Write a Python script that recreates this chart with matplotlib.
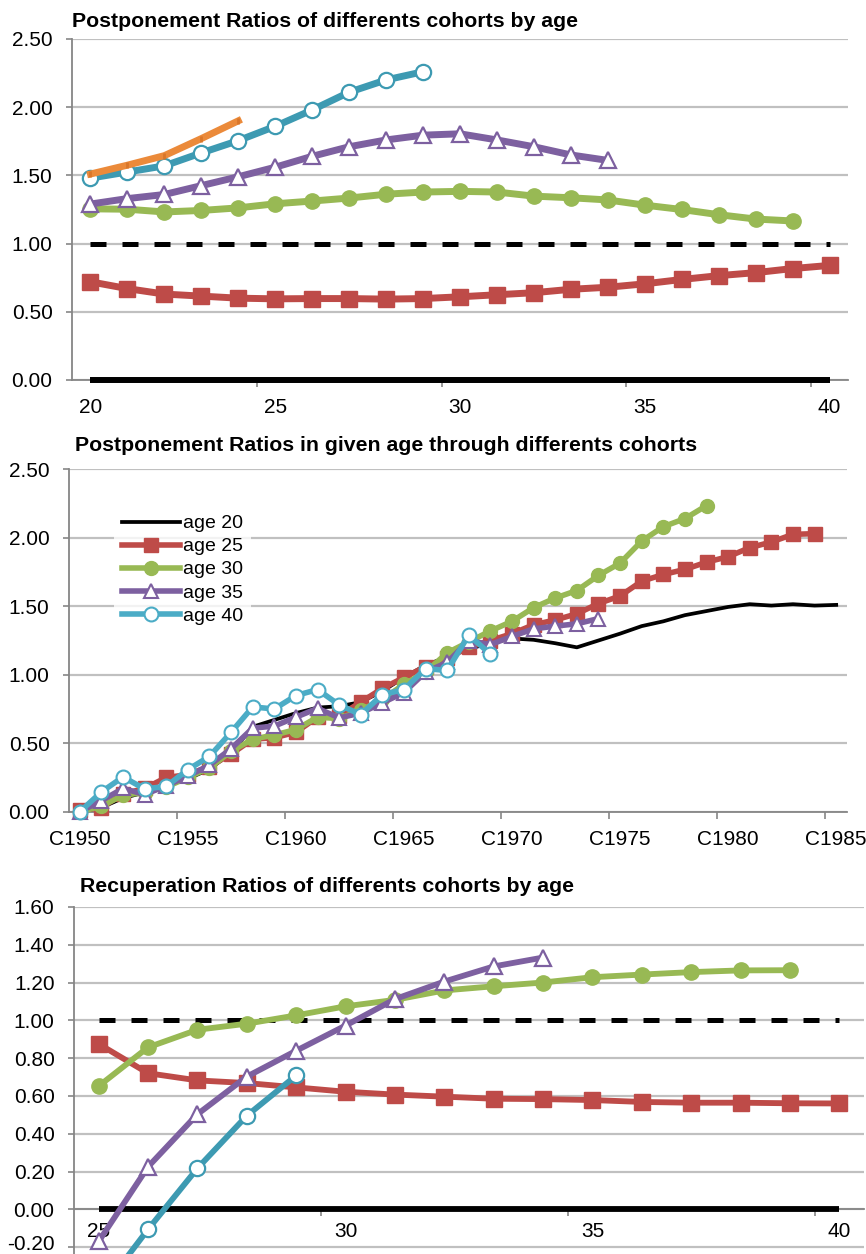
import numpy as np
import matplotlib
matplotlib.use('Agg')
import matplotlib.pyplot as plt
import matplotlib.transforms as mtransforms

plt.rcParams['font.family'] = ['Liberation Sans', 'DejaVu Sans']

# ---- panel 1: postponement ratios of cohorts by age ----
ages1 = list(range(20, 41))
p1_zero = [0.0] * 21
p1_one = [1.0] * 21
p1_red = [0.72, 0.67, 0.63, 0.615, 0.60, 0.595, 0.597, 0.597, 0.593, 0.597, 0.61,
          0.625, 0.64, 0.665, 0.68, 0.705, 0.737, 0.765, 0.787, 0.817, 0.84]
p1_green = [1.255, 1.252, 1.232, 1.243, 1.262, 1.292, 1.312, 1.334, 1.362, 1.378, 1.383,
            1.378, 1.348, 1.336, 1.32, 1.282, 1.25, 1.212, 1.18, 1.166]
p1_purple = [1.29, 1.33, 1.36, 1.425, 1.49, 1.56, 1.64, 1.71, 1.76, 1.795, 1.805,
             1.76, 1.71, 1.65, 1.61]
p1_cyan = [1.48, 1.525, 1.57, 1.665, 1.755, 1.86, 1.98, 2.11, 2.20, 2.26]
p1_orange = [1.51, 1.575, 1.645, 1.77, 1.90]

# ---- panel 2: postponement ratios in given age through cohorts ----
cohorts = list(range(1950, 1986))
age20 = [0.00, 0.03, 0.10, 0.14, 0.19, 0.24, 0.31, 0.43, 0.62, 0.67, 0.72, 0.76, 0.77, 0.80,
         0.88, 0.98, 1.07, 1.13, 1.19, 1.23, 1.265, 1.255, 1.23, 1.20, 1.25, 1.30, 1.355,
         1.39, 1.435, 1.465, 1.495, 1.515, 1.505, 1.515, 1.505, 1.51]
age25 = [0.01, 0.03, 0.13, 0.17, 0.25, 0.27, 0.33, 0.42, 0.53, 0.54, 0.58, 0.69, 0.70, 0.80,
         0.90, 0.98, 1.06, 1.12, 1.20, 1.25, 1.30, 1.365, 1.40, 1.445, 1.52, 1.575, 1.683,
         1.732, 1.769, 1.822, 1.862, 1.928, 1.969, 2.025, 2.03]
age30 = [0.00, 0.04, 0.12, 0.14, 0.18, 0.25, 0.32, 0.44, 0.53, 0.56, 0.60, 0.69, 0.68, 0.74,
         0.82, 0.93, 1.02, 1.16, 1.24, 1.32, 1.39, 1.49, 1.56, 1.615, 1.725, 1.815, 1.976,
         2.081, 2.14, 2.235]
age35 = [0.00, 0.08, 0.17, 0.125, 0.19, 0.26, 0.34, 0.46, 0.61, 0.625, 0.69, 0.755, 0.685,
         0.72, 0.795, 0.87, 1.02, 1.09, 1.25, 1.22, 1.28, 1.335, 1.355, 1.372, 1.41]
age40 = [0.00, 0.144, 0.254, 0.166, 0.185, 0.307, 0.404, 0.58, 0.765, 0.75, 0.848, 0.892,
         0.78, 0.709, 0.855, 0.892, 1.045, 1.031, 1.29, 1.15]
legend_labels = ['age 20', 'age 25', 'age 30', 'age 35', 'age 40']

# ---- panel 3: recuperation ratios of cohorts by age ----
ages3 = list(range(25, 41))
r_zero = [0.0] * 16
r_one = [1.0] * 16
r_red = [0.875, 0.72, 0.682, 0.668, 0.645, 0.622, 0.607, 0.596, 0.585, 0.583, 0.578,
         0.568, 0.564, 0.564, 0.561, 0.56]
r_green = [0.652, 0.857, 0.95, 0.982, 1.026, 1.074, 1.108, 1.158, 1.18, 1.2, 1.228,
           1.242, 1.255, 1.264, 1.265]
r_purple = [-0.17, 0.225, 0.503, 0.702, 0.839, 0.972, 1.112, 1.205, 1.285, 1.332]
r_cyan = [-0.45, -0.106, 0.217, 0.495, 0.708]

RED = '#BE4B48'
GREEN = '#98B954'
PURPLE = '#7D60A0'
CYAN_D = '#3D9AB2'
CYAN = '#4BACC6'
ORANGE = '#EB8A3A'
GRID = '#C0C0C0'
AX = '#868686'

fig = plt.figure(figsize=(8.66, 12.54), dpi=100)


def style(ax, ymin, ymax, yticks, fs=15):
    ax.set_ylim(ymin, ymax)
    ax.set_yticks(yticks)
    ax.set_yticklabels(['%.2f' % t for t in yticks])
    ax.yaxis.grid(True, color=GRID, lw=1.6)
    ax.set_axisbelow(True)
    for s in ['top', 'right']:
        ax.spines[s].set_visible(False)
    for s in ['left', 'bottom']:
        ax.spines[s].set_color(AX)
        ax.spines[s].set_linewidth(1.3)
    ax.tick_params(axis='y', direction='out', length=4, width=1.2, color=AX, pad=10, labelsize=fs)
    ax.tick_params(axis='x', which='major', direction='out', length=5, width=1.2, color=AX,
                   labelbottom=False)
    ax.tick_params(axis='x', which='minor', length=0, pad=13, labelsize=fs)


# panel 1
ax1 = fig.add_axes([72 / 866, 1 - 380 / 1254, 776 / 866, 341 / 1254])
ax1.set_xlim(19.5, 40.5)
style(ax1, 0, 2.5, [0, 0.5, 1.0, 1.5, 2.0, 2.5])
ax1.set_xticks([24.5, 29.5, 34.5, 39.5])
ax1.set_xticks([20, 25, 30, 35, 40], minor=True)
ax1.set_xticklabels(['20', '25', '30', '35', '40'], minor=True)
ax1.plot(ages1, p1_zero, color='black', lw=4.3, solid_capstyle='butt', clip_on=False, zorder=3)
ax1.plot(ages1, p1_one, color='black', lw=3.6, dashes=(3.2, 3.2), zorder=3)
ax1.plot(ages1, p1_red, color=RED, lw=5.0, marker='s', ms=11, zorder=3)
ax1.plot(ages1[:len(p1_green)], p1_green, color=GREEN, lw=5.0, marker='o', ms=11, zorder=3)
ax1.plot(ages1[:len(p1_purple)], p1_purple, color=PURPLE, lw=5.0, marker='^', ms=11,
         mfc='white', mec=PURPLE, mew=1.6, zorder=3)
ax1.plot(ages1[:len(p1_cyan)], p1_cyan, color=CYAN_D, lw=5.0, marker='o', ms=11,
         mfc='white', mec=CYAN_D, mew=1.6, zorder=3)
ax1.plot(ages1[:len(p1_orange)], p1_orange, color=ORANGE, lw=5.0, marker='|', ms=5,
         mew=2, mec='#D9762A', zorder=3)
fig.text(72 / 866, 1 - 27 / 1254, 'Postponement Ratios of differents cohorts by age',
         fontsize=15.3, fontweight='bold', va='baseline', ha='left')

# panel 2
ax2 = fig.add_axes([69 / 866, 1 - 811.7 / 1254, 778 / 866, 342.4 / 1254])
ax2.set_xlim(1949.5, 1985.5)
style(ax2, 0, 2.5, [0, 0.5, 1.0, 1.5, 2.0, 2.5])
ax2.set_xticks([1954.5, 1959.5, 1964.5, 1969.5, 1974.5, 1979.5, 1984.5])
lab_years = list(range(1950, 1986, 5))
ax2.set_xticks(lab_years, minor=True)
ax2.set_xticklabels(['C%d' % y for y in lab_years], minor=True)
ax2.plot(cohorts, age20, color='black', lw=2.7, label=legend_labels[0], clip_on=False, zorder=3)
ax2.plot(cohorts[:len(age25)], age25, color=RED, lw=4.0, marker='s', ms=10,
         label=legend_labels[1], clip_on=False, zorder=3)
ax2.plot(cohorts[:len(age30)], age30, color=GREEN, lw=4.0, marker='o', ms=10,
         label=legend_labels[2], clip_on=False, zorder=3)
ax2.plot(cohorts[:len(age35)], age35, color=PURPLE, lw=4.0, marker='^', ms=10,
         mfc='white', mec=PURPLE, mew=1.5, label=legend_labels[3], clip_on=False, zorder=3)
ax2.plot(cohorts[:len(age40)], age40, color=CYAN, lw=4.0, marker='o', ms=10,
         mfc='white', mec=CYAN, mew=1.5, label=legend_labels[4], clip_on=False, zorder=3)
leg = ax2.legend(loc='upper left', bbox_to_anchor=(0.058, 0.89), fontsize=14,
                 handlelength=3.0, handletextpad=0.15, labelspacing=0.28,
                 borderpad=0.4, frameon=True, fancybox=False, borderaxespad=0)
leg.get_frame().set_facecolor('white')
leg.get_frame().set_edgecolor('none')
fig.text(75 / 866, 1 - 451 / 1254, 'Postponement Ratios in given age through differents cohorts',
         fontsize=15.3, fontweight='bold', va='baseline', ha='left')

# panel 3
ax3 = fig.add_axes([74 / 866, 0, 790 / 866, 1 - 906.9 / 1254])
ax3.set_xlim(24.5, 40.5)
style(ax3, -0.2365, 1.6, [-0.2, 0, 0.2, 0.4, 0.6, 0.8, 1.0, 1.2, 1.4, 1.6])
ax3.spines['bottom'].set_position(('data', 0))
ax3.set_xticks([29.5, 34.5, 39.5])
ax3.set_xticks([25, 30, 35, 40], minor=True)
ax3.set_xticklabels(['25', '30', '35', '40'], minor=True)
ax3.tick_params(axis='x', which='minor', pad=9)
# nudge the lowest y label up a little so it stays inside the image
low_lab = ax3.get_yticklabels()[0]
low_lab.set_transform(low_lab.get_transform() +
                      mtransforms.ScaledTranslation(0, 3 / 72, fig.dpi_scale_trans))
ax3.plot(ages3, r_zero, color='black', lw=4.2, solid_capstyle='butt', zorder=3)
ax3.plot(ages3, r_one, color='black', lw=3.6, dashes=(3.2, 3.2), zorder=3)
ax3.plot(ages3, r_red, color=RED, lw=4.2, marker='s', ms=11, zorder=3)
ax3.plot(ages3[:len(r_green)], r_green, color=GREEN, lw=4.2, marker='o', ms=11, zorder=3)
ax3.plot(ages3[:len(r_purple)], r_purple, color=PURPLE, lw=4.2, marker='^', ms=11,
         mfc='white', mec=PURPLE, mew=1.6, zorder=3)
ax3.plot(ages3[:len(r_cyan)], r_cyan, color=CYAN_D, lw=4.2, marker='o', ms=11,
         mfc='white', mec=CYAN_D, mew=1.6, zorder=3)
fig.text(80 / 866, 1 - 892 / 1254, 'Recuperation Ratios of differents cohorts by age',
         fontsize=15.3, fontweight='bold', va='baseline', ha='left')

fig.savefig('out.png', dpi=100)
